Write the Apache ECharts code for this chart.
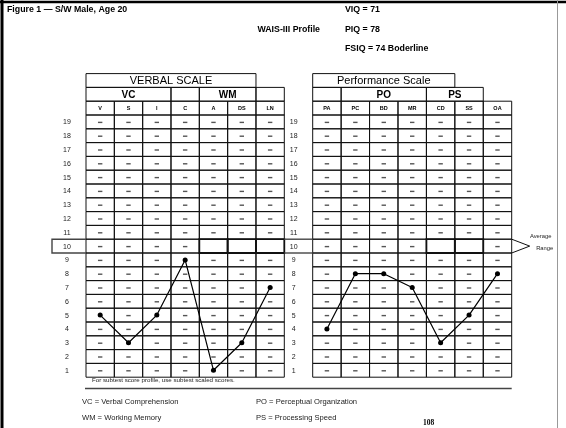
<!DOCTYPE html>
<html><head><meta charset="utf-8">
<script src="https://cdn.jsdelivr.net/npm/echarts/dist/echarts.min.js"></script>
<style>html,body{margin:0;padding:0;background:#fff}#c{width:566px;height:428px}</style>
</head><body><div id="c"></div><script>
// ---- data ----
const verbalSubtests = ['V', 'S', 'I', 'C', 'A', 'DS', 'LN'];
const verbalScores = [5, 3, 5, 9, 1, 3, 7];
const perfSubtests = ['PA', 'PC', 'BD', 'MR', 'CD', 'SS', 'OA'];
const perfScores = [4, 8, 8, 7, 3, 5, 8];
const scaleRows = [1, 2, 3, 4, 5, 6, 7, 8, 9, 10, 11, 12, 13, 14, 15, 16, 17, 18, 19];
const averageRow = 10;
const verbalBlankAtAverage = ['A', 'DS', 'LN'];
const perfBlankAtAverage = ['CD', 'SS'];
const verbalGroups = [['VC', 0, 2], ['', 3, 3], ['WM', 4, 5], ['', 6, 6]];
const perfGroups = [['', 0, 0], ['PO', 1, 3], ['PS', 4, 5]];
const verbalHeader = ['VERBAL SCALE', 0, 5];
const perfHeader = ['Performance Scale', 0, 4];
const titleTexts = ['Figure 1 \u2014 S/W Male, Age 20', 'WAIS-III Profile', 'VIQ = 71', 'PIQ = 78', 'FSIQ = 74 Boderline'];
const footTexts = ['For subtest score profile, use subtest scaled scores.', 'VC = Verbal Comprehension', 'WM = Working Memory', 'PO = Perceptual Organization', 'PS = Processing Speed', '108'];

const SANS = '"Liberation Sans", Arial, sans-serif';
const ABBR_ROW = 20, GROUP_ROW = 21, HEAD_ROW = 22;

function buildItems(subtests, groups, header, blank, side) {
  const thin = [], thick = [], labels = [];
  scaleRows.forEach(r => subtests.forEach((s, i) => {
    const isBlank = r === averageRow && blank.includes(s);
    (isBlank ? thick : thin).push({ kind: 'cell', col: i, row: r, span: 1, dash: !isBlank, thick: isBlank });
  }));
  subtests.forEach((s, i) => thin.push({ kind: 'cell', col: i, row: ABBR_ROW, span: 1, text: s, font: 'bold 5.5px ' + SANS }));
  groups.forEach(g => thin.push({ kind: 'cell', col: g[1], row: GROUP_ROW, span: g[2] - g[1] + 1, text: g[0], font: 'bold 10px ' + SANS }));
  thin.push({ kind: 'cell', col: header[1], row: HEAD_ROW, span: header[2] - header[1] + 1, text: header[0], font: '11px ' + SANS });
  scaleRows.forEach(r => labels.push({ kind: 'label', col: 0, row: r, side: side }));
  return thin.concat(thick, labels);
}

function makeRender(items) {
  return function (params, api) {
    const d = items[params.dataIndex];
    const cs = params.coordSys;
    const c = api.coord([d.col, d.row]);
    const sz = api.size([1, 1]);
    const w = sz[0], h = sz[1];
    const children = [];
    if (d.kind === 'cell') {
      const x0 = c[0] - w / 2, y0 = c[1] - h / 2, ww = w * d.span;
      children.push({ type: 'rect', shape: { x: x0, y: y0, width: ww, height: h },
        style: { fill: 'none', stroke: '#111', lineWidth: d.thick ? 1.8 : 1 } });
      if (d.dash) children.push({ type: 'rect', shape: { x: c[0] - 2.2, y: c[1] - 0.2, width: 4.4, height: 1.4 }, style: { fill: '#555' } });
      if (d.text) children.push({ type: 'text', style: { text: d.text, x: x0 + ww / 2, y: c[1] + 0.5, font: d.font, fill: '#000', align: 'center', verticalAlign: 'middle' } });
    } else {
      children.push({ type: 'text', style: { text: String(d.row), x: cs.x - 19, y: c[1] + 0.5, font: '7px ' + SANS, fill: '#222', align: 'center', verticalAlign: 'middle' } });
      if (d.row === averageRow) {
        const yt = c[1] - h / 2, yb = c[1] + h / 2;
        const ls = { stroke: '#444', lineWidth: 1.4 };
        if (d.side === 'left') {
          const xl = cs.x - 34;
          children.push({ type: 'polyline', shape: { points: [[cs.x, yt], [xl, yt], [xl, yb], [cs.x, yb]] }, style: Object.assign({ fill: 'none' }, ls) });
        } else {
          const xl = cs.x - 28.4, xr = cs.x + cs.width;
          children.push({ type: 'line', shape: { x1: xl, y1: yt, x2: cs.x, y2: yt }, style: ls });
          children.push({ type: 'line', shape: { x1: xl, y1: yb, x2: cs.x, y2: yb }, style: ls });
          children.push({ type: 'polyline', shape: { points: [[xr, yt], [xr + 18, c[1]], [xr, yb]] }, style: { fill: 'none', stroke: '#111', lineWidth: 1 } });
          children.push({ type: 'text', style: { text: 'Average', x: xr + 29, y: yt - 2.5, font: '5.8px ' + SANS, fill: '#222', align: 'center', verticalAlign: 'middle' } });
          children.push({ type: 'text', style: { text: 'Range', x: xr + 33, y: c[1] + 2.5, font: '5.8px ' + SANS, fill: '#222', align: 'center', verticalAlign: 'middle' } });
        }
      }
    }
    return { type: 'group', children: children };
  };
}

const vItems = buildItems(verbalSubtests, verbalGroups, verbalHeader, verbalBlankAtAverage, 'left');
const pItems = buildItems(perfSubtests, perfGroups, perfHeader, perfBlankAtAverage, 'right');

const gridTop = 73.6, gridH = 303.6;
const chart = echarts.init(document.getElementById('c'), null, { renderer: 'canvas' });
function txt(t, x, y, font, extra) {
  return { type: 'text', z: 10, style: Object.assign({ text: t, x: x, y: y, font: font, fill: '#000', verticalAlign: 'middle' }, extra || {}) };
}
const B9 = 'bold 8.8px ' + SANS;
chart.setOption({
  animation: false,
  backgroundColor: '#fff',
  grid: [
    { left: 86, top: gridTop, width: 198.3, height: gridH },
    { left: 312.7, top: gridTop, width: 199, height: gridH }
  ],
  xAxis: [
    { type: 'category', data: verbalSubtests, gridIndex: 0, boundaryGap: true, show: false },
    { type: 'category', data: perfSubtests, gridIndex: 1, boundaryGap: true, show: false }
  ],
  yAxis: [
    { type: 'value', min: 0.5, max: 22.5, gridIndex: 0, show: false },
    { type: 'value', min: 0.5, max: 22.5, gridIndex: 1, show: false }
  ],
  series: [
    { type: 'custom', xAxisIndex: 0, yAxisIndex: 0, clip: false, renderItem: makeRender(vItems), data: vItems.map(d => [d.col, d.row]), z: 1 },
    { type: 'custom', xAxisIndex: 1, yAxisIndex: 1, clip: false, renderItem: makeRender(pItems), data: pItems.map(d => [d.col, d.row]), z: 1 },
    { type: 'line', xAxisIndex: 0, yAxisIndex: 0, data: verbalScores, z: 5, symbol: 'circle', symbolSize: 5,
      lineStyle: { color: '#000', width: 1.2 }, itemStyle: { color: '#000' } },
    { type: 'line', xAxisIndex: 1, yAxisIndex: 1, data: perfScores, z: 5, symbol: 'circle', symbolSize: 5,
      lineStyle: { color: '#000', width: 1.2 }, itemStyle: { color: '#000' } }
  ],
  graphic: [
    { type: 'line', z: 10, shape: { x1: 0, y1: 2, x2: 566, y2: 2 }, style: { stroke: '#000', lineWidth: 2.5 } },
    { type: 'line', z: 10, shape: { x1: 2, y1: 0, x2: 2, y2: 428 }, style: { stroke: '#000', lineWidth: 3 } },
    { type: 'line', z: 10, shape: { x1: 557.5, y1: 0, x2: 557.5, y2: 428 }, style: { stroke: '#999', lineWidth: 1 } },
    { type: 'line', z: 10, shape: { x1: 85, y1: 388.5, x2: 511.7, y2: 388.5 }, style: { stroke: '#444', lineWidth: 1.4 } },
    txt(titleTexts[0], 7, 10, B9),
    txt(titleTexts[1], 320, 30, B9, { align: 'right' }),
    txt(titleTexts[2], 345, 10, B9),
    txt(titleTexts[3], 345, 30, B9),
    txt(titleTexts[4], 345, 48.5, B9),
    txt(footTexts[0], 92, 380, '6.2px ' + SANS, { fill: '#222' }),
    txt(footTexts[1], 82, 401.5, '7.6px ' + SANS, { fill: '#222' }),
    txt(footTexts[2], 82, 417.5, '7.6px ' + SANS, { fill: '#222' }),
    txt(footTexts[3], 256, 401.5, '7.6px ' + SANS, { fill: '#222' }),
    txt(footTexts[4], 256, 417.5, '7.6px ' + SANS, { fill: '#222' }),
    txt(footTexts[5], 423, 423, 'bold 7.5px "Liberation Serif", "Times New Roman", serif')
  ]
});
</script></body></html>
